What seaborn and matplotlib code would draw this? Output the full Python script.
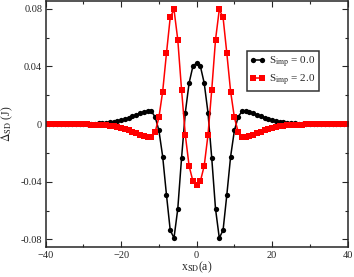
import matplotlib
matplotlib.use("Agg")
import matplotlib.pyplot as plt
import seaborn as sns
import pandas as pd
import numpy as np
from matplotlib.ticker import MultipleLocator

# x positions (lattice sites) and the two curves
x_sd = list(range(-40, 41))

# values for |x| = 0..40
black_half = [0.0425, 0.0400, 0.0285, 0.0080, -0.0236, -0.0588, -0.0790, -0.0736, -0.0490,
              -0.0225, -0.0044, 0.0050, 0.0088, 0.0090, 0.0085, 0.0075, 0.0064, 0.0053,
              0.0043, 0.0034, 0.0027, 0.0021, 0.0016, 0.0012, 0.0009, 0.0007, 0.0005,
              0.0004, 0.0003, 0.0002, 0.00015, 0.0001, 0.0001, 0.0001, 0.0, 0.0, 0.0,
              0.0, 0.0, 0.0, 0.0]
red_half = [-0.0425, -0.0395, -0.0290, -0.0076, 0.0238, 0.0585, 0.0795, 0.0740, 0.0490,
            0.0226, 0.0046, -0.0055, -0.0088, -0.0090, -0.0085, -0.0075, -0.0064, -0.0053,
            -0.0043, -0.0034, -0.0027, -0.0021, -0.0016, -0.0012, -0.0009, -0.0007, -0.0005,
            -0.0004, -0.0003, -0.0002, -0.00015, -0.0001, -0.0001, -0.0001, 0.0, 0.0, 0.0,
            0.0, 0.0, 0.0, 0.0]

black_vals = black_half[:0:-1] + black_half
red_vals = red_half[:0:-1] + red_half

labels = [r'S$_{\rm imp}$ = 0.0', r'S$_{\rm imp}$ = 2.0']

df = pd.DataFrame({
    'x': x_sd * 2,
    'delta': black_vals + red_vals,
    'series': [labels[0]] * len(x_sd) + [labels[1]] * len(x_sd),
})

sns.set_style('ticks')
plt.rcParams['font.family'] = ['Liberation Serif', 'DejaVu Serif']
plt.rcParams['mathtext.fontset'] = 'stix'

fig = plt.figure(figsize=(3.54, 2.77), dpi=100)
ax = fig.add_axes([0.129, 0.107, 0.853, 0.890])

sns.lineplot(data=df, x='x', y='delta', hue='series', style='series',
             palette={labels[0]: 'black', labels[1]: '#ff0000'},
             markers={labels[0]: 'o', labels[1]: 's'}, dashes=False,
             markersize=3.8, markeredgewidth=0, linewidth=1.1, ax=ax)

ax.set_xlim(-40, 40)
ax.set_ylim(-0.0855, 0.0855)
ax.xaxis.set_major_locator(MultipleLocator(20))
ax.xaxis.set_minor_locator(MultipleLocator(10))
ax.yaxis.set_major_locator(MultipleLocator(0.04))
ax.yaxis.set_minor_locator(MultipleLocator(0.02))
ax.set_yticks([-0.08, -0.04, 0, 0.04, 0.08])
ax.set_yticklabels(['-0.08', '-0.04', '0', '0.04', '0.08'])
ax.tick_params(which='both', direction='in', top=True, right=True, labelsize=7.5, pad=2.5)
ax.tick_params(which='major', length=4, width=0.8)
ax.tick_params(which='minor', length=2, width=0.8)
for s in ax.spines.values():
    s.set_linewidth(1.1)

ax.set_xlabel(r'x$_{\rm SD}$(a)', fontsize=8.5, labelpad=0)
ax.set_ylabel(r'$\Delta_{\rm SD}$ (J)', fontsize=8.5, labelpad=4)

leg = ax.legend(loc='upper left', bbox_to_anchor=(0.666, 0.795), numpoints=2,
                handlelength=1.4, handletextpad=0.3, borderpad=0.3,
                labelspacing=0.25, fontsize=8, frameon=True, fancybox=False,
                borderaxespad=0)
leg.get_frame().set_edgecolor('black')
leg.get_frame().set_linewidth(1.1)

fig.savefig('out.png', dpi=100)
